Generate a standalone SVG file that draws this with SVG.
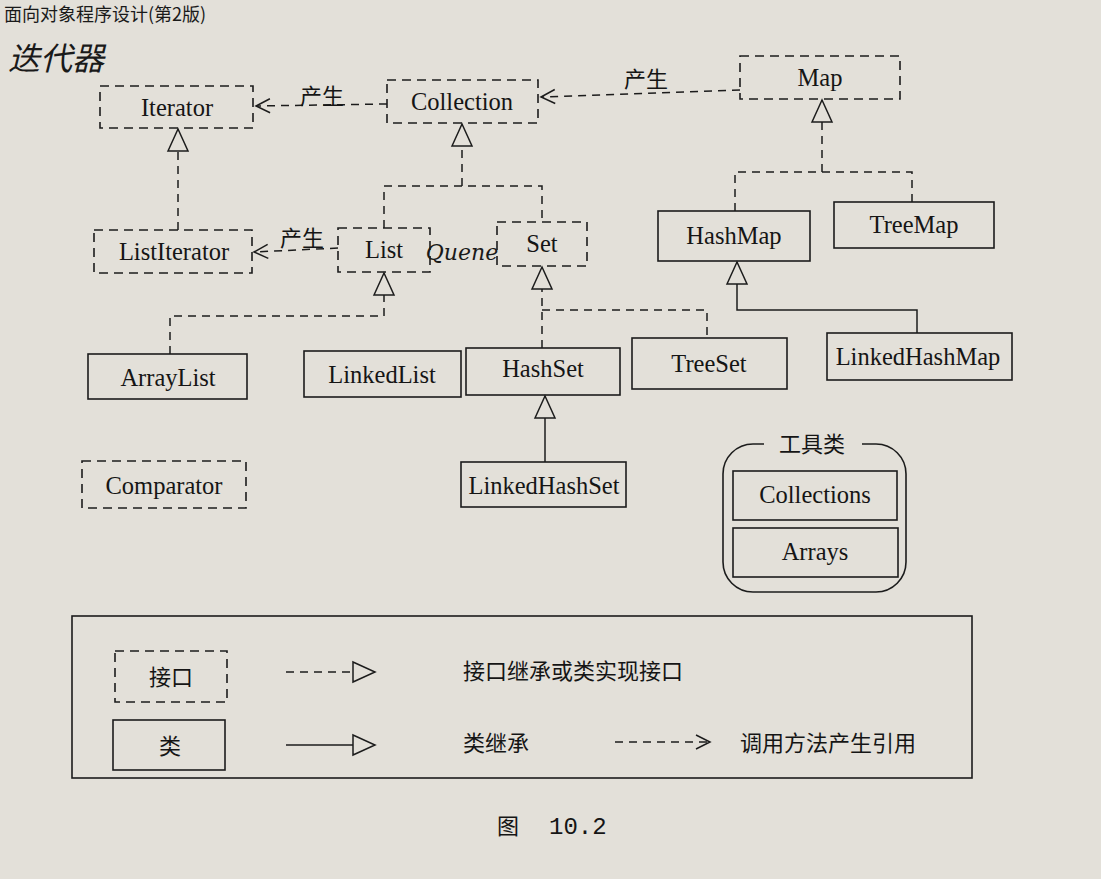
<svg xmlns="http://www.w3.org/2000/svg" width="1101" height="879" viewBox="0 0 1101 879">
<style>
.bg{fill:#e3e0d9}
.iface{fill:none;stroke:#1c1c1c;stroke-width:1.6;stroke-dasharray:9 6}
.cls{fill:none;stroke:#1c1c1c;stroke-width:1.6}
.dash{fill:none;stroke:#1c1c1c;stroke-width:1.5;stroke-dasharray:8 6}
.solid{fill:none;stroke:#1c1c1c;stroke-width:1.5}
.lbl{font-family:"Liberation Serif",serif;font-size:24.5px;fill:#151515;text-anchor:middle}
.cn{font-family:"Noto Sans CJK SC",sans-serif;font-size:22px;fill:#151515}
.hand{font-family:"Noto Sans CJK SC",sans-serif;fill:#1a1a1a}
</style>
<defs>
<marker id="tri" markerUnits="userSpaceOnUse" markerWidth="24" markerHeight="22" refX="22" refY="10" orient="auto" overflow="visible">
<path d="M0,0 L22,10 L0,20 Z" fill="#e3e0d9" stroke="#1c1c1c" stroke-width="1.5" stroke-dasharray="none"/>
</marker>
<marker id="vee" markerUnits="userSpaceOnUse" markerWidth="16" markerHeight="16" refX="14" refY="7" orient="auto" overflow="visible">
<path d="M0,0 L14,7 L0,14" fill="none" stroke="#1c1c1c" stroke-width="1.5" stroke-dasharray="none"/>
</marker>
</defs>
<rect class="bg" x="0" y="0" width="1101" height="879"/>

<g id="page-header">
<text class="hand" x="4" y="21" font-size="18">面向对象程序设计(第2版)</text>
<text class="hand" x="8" y="70" font-size="32" font-style="italic">迭代器</text>
</g>

<g id="connectors">
<path class="dash" d="M387,104 L256,106" marker-end="url(#vee)"/>
<path class="dash" d="M740,90 L541,97" marker-end="url(#vee)"/>
<path class="dash" d="M338,248 L254,252" marker-end="url(#vee)"/>
<path class="dash" d="M178,230 V129" marker-end="url(#tri)"/>
<path class="dash" d="M462,186 V124" marker-end="url(#tri)"/>
<path class="dash" d="M384,228 V186 H542 V222"/>
<path class="dash" d="M384,316 V273" marker-end="url(#tri)"/>
<path class="dash" d="M170,354 V316 H384"/>
<path class="dash" d="M542,348 V267" marker-end="url(#tri)"/>
<path class="dash" d="M542,310 H707 V338"/>
<path class="solid" d="M545,462 V396" marker-end="url(#tri)"/>
<path class="dash" d="M822,172 V100" marker-end="url(#tri)"/>
<path class="dash" d="M735,211 V172 H912 V202"/>
<path class="solid" d="M917,333 V310 H737 V262" marker-end="url(#tri)"/>
<text class="cn" x="322" y="104" text-anchor="middle">产生</text>
<text class="cn" x="646" y="87" text-anchor="middle">产生</text>
<text class="cn" x="302" y="246" text-anchor="middle">产生</text>
</g>

<g id="Iterator"><rect class="iface" x="100" y="86" width="153" height="42"/><text class="lbl" x="177" y="116">Iterator</text></g>
<g id="Collection"><rect class="iface" x="387" y="80" width="151" height="43"/><text class="lbl" x="462" y="110" font-size="23.5">Collection</text></g>
<g id="Map"><rect class="iface" x="740" y="56" width="160" height="43"/><text class="lbl" x="820" y="86">Map</text></g>
<g id="ListIterator"><rect class="iface" x="94" y="230" width="158" height="43"/><text class="lbl" x="174" y="260">ListIterator</text></g>
<g id="List"><rect class="iface" x="338" y="228" width="92" height="44"/><text class="lbl" x="384" y="258">List</text></g>
<g id="Set"><rect class="iface" x="497" y="222" width="90" height="44"/><text class="lbl" x="542" y="252">Set</text></g>
<g id="Queue-note"><text x="462" y="260" font-family="DejaVu Serif,serif" font-style="italic" font-size="22" fill="#1a1a1a" text-anchor="middle">Quene</text></g>
<g id="HashMap"><rect class="cls" x="658" y="211" width="152" height="50"/><text class="lbl" x="734" y="244" font-size="25">HashMap</text></g>
<g id="TreeMap"><rect class="cls" x="834" y="202" width="160" height="46"/><text class="lbl" x="914" y="233" font-size="25">TreeMap</text></g>
<g id="ArrayList"><rect class="cls" x="88" y="354" width="159" height="45"/><text class="lbl" x="168" y="386">ArrayList</text></g>
<g id="LinkedList"><rect class="cls" x="304" y="351" width="157" height="46"/><text class="lbl" x="382" y="383">LinkedList</text></g>
<g id="HashSet"><rect class="cls" x="466" y="348" width="154" height="47"/><text class="lbl" x="543" y="377">HashSet</text></g>
<g id="TreeSet"><rect class="cls" x="632" y="338" width="155" height="51"/><text class="lbl" x="709" y="372" font-size="25">TreeSet</text></g>
<g id="LinkedHashMap"><rect class="cls" x="827" y="333" width="185" height="47"/><text class="lbl" x="918" y="365" font-size="26">LinkedHashMap</text></g>
<g id="LinkedHashSet"><rect class="cls" x="461" y="462" width="165" height="45"/><text class="lbl" x="544" y="494">LinkedHashSet</text></g>
<g id="Comparator"><rect class="iface" x="82" y="461" width="164" height="47"/><text class="lbl" x="164" y="494">Comparator</text></g>

<g id="utility-classes">
<rect class="cls" x="723" y="444" width="183" height="148" rx="30"/>
<rect class="bg" x="764" y="430" width="98" height="28"/>
<text class="cn" x="812" y="452" text-anchor="middle" font-size="23">工具类</text>
<g id="Collections"><rect class="cls" x="733" y="471" width="164" height="49"/><text class="lbl" x="815" y="503">Collections</text></g>
<g id="Arrays"><rect class="cls" x="733" y="528" width="165" height="49"/><text class="lbl" x="815" y="560">Arrays</text></g>
</g>

<g id="legend">
<rect class="cls" x="72" y="616" width="900" height="162"/>
<rect class="iface" x="115" y="651" width="112" height="51"/>
<text class="cn" x="171" y="685" text-anchor="middle" font-size="24">接口</text>
<rect class="cls" x="113" y="720" width="112" height="50"/>
<text class="cn" x="170" y="754" text-anchor="middle" font-size="24">类</text>
<path class="dash" d="M286,672 H375" marker-end="url(#tri)"/>
<path class="solid" d="M286,745 H375" marker-end="url(#tri)"/>
<path class="dash" d="M615,742 H710" marker-end="url(#vee)"/>
<text class="cn" x="463" y="679" font-size="24.5">接口继承或类实现接口</text>
<text class="cn" x="463" y="751" font-size="25">类继承</text>
<text class="cn" x="740" y="751" font-size="25.5">调用方法产生引用</text>
</g>

<g id="caption">
<text class="cn" x="497" y="834" font-size="24">图</text>
<text x="549" y="834" font-family="Liberation Mono,monospace" font-size="24" fill="#151515">10.2</text>
</g>
</svg>
